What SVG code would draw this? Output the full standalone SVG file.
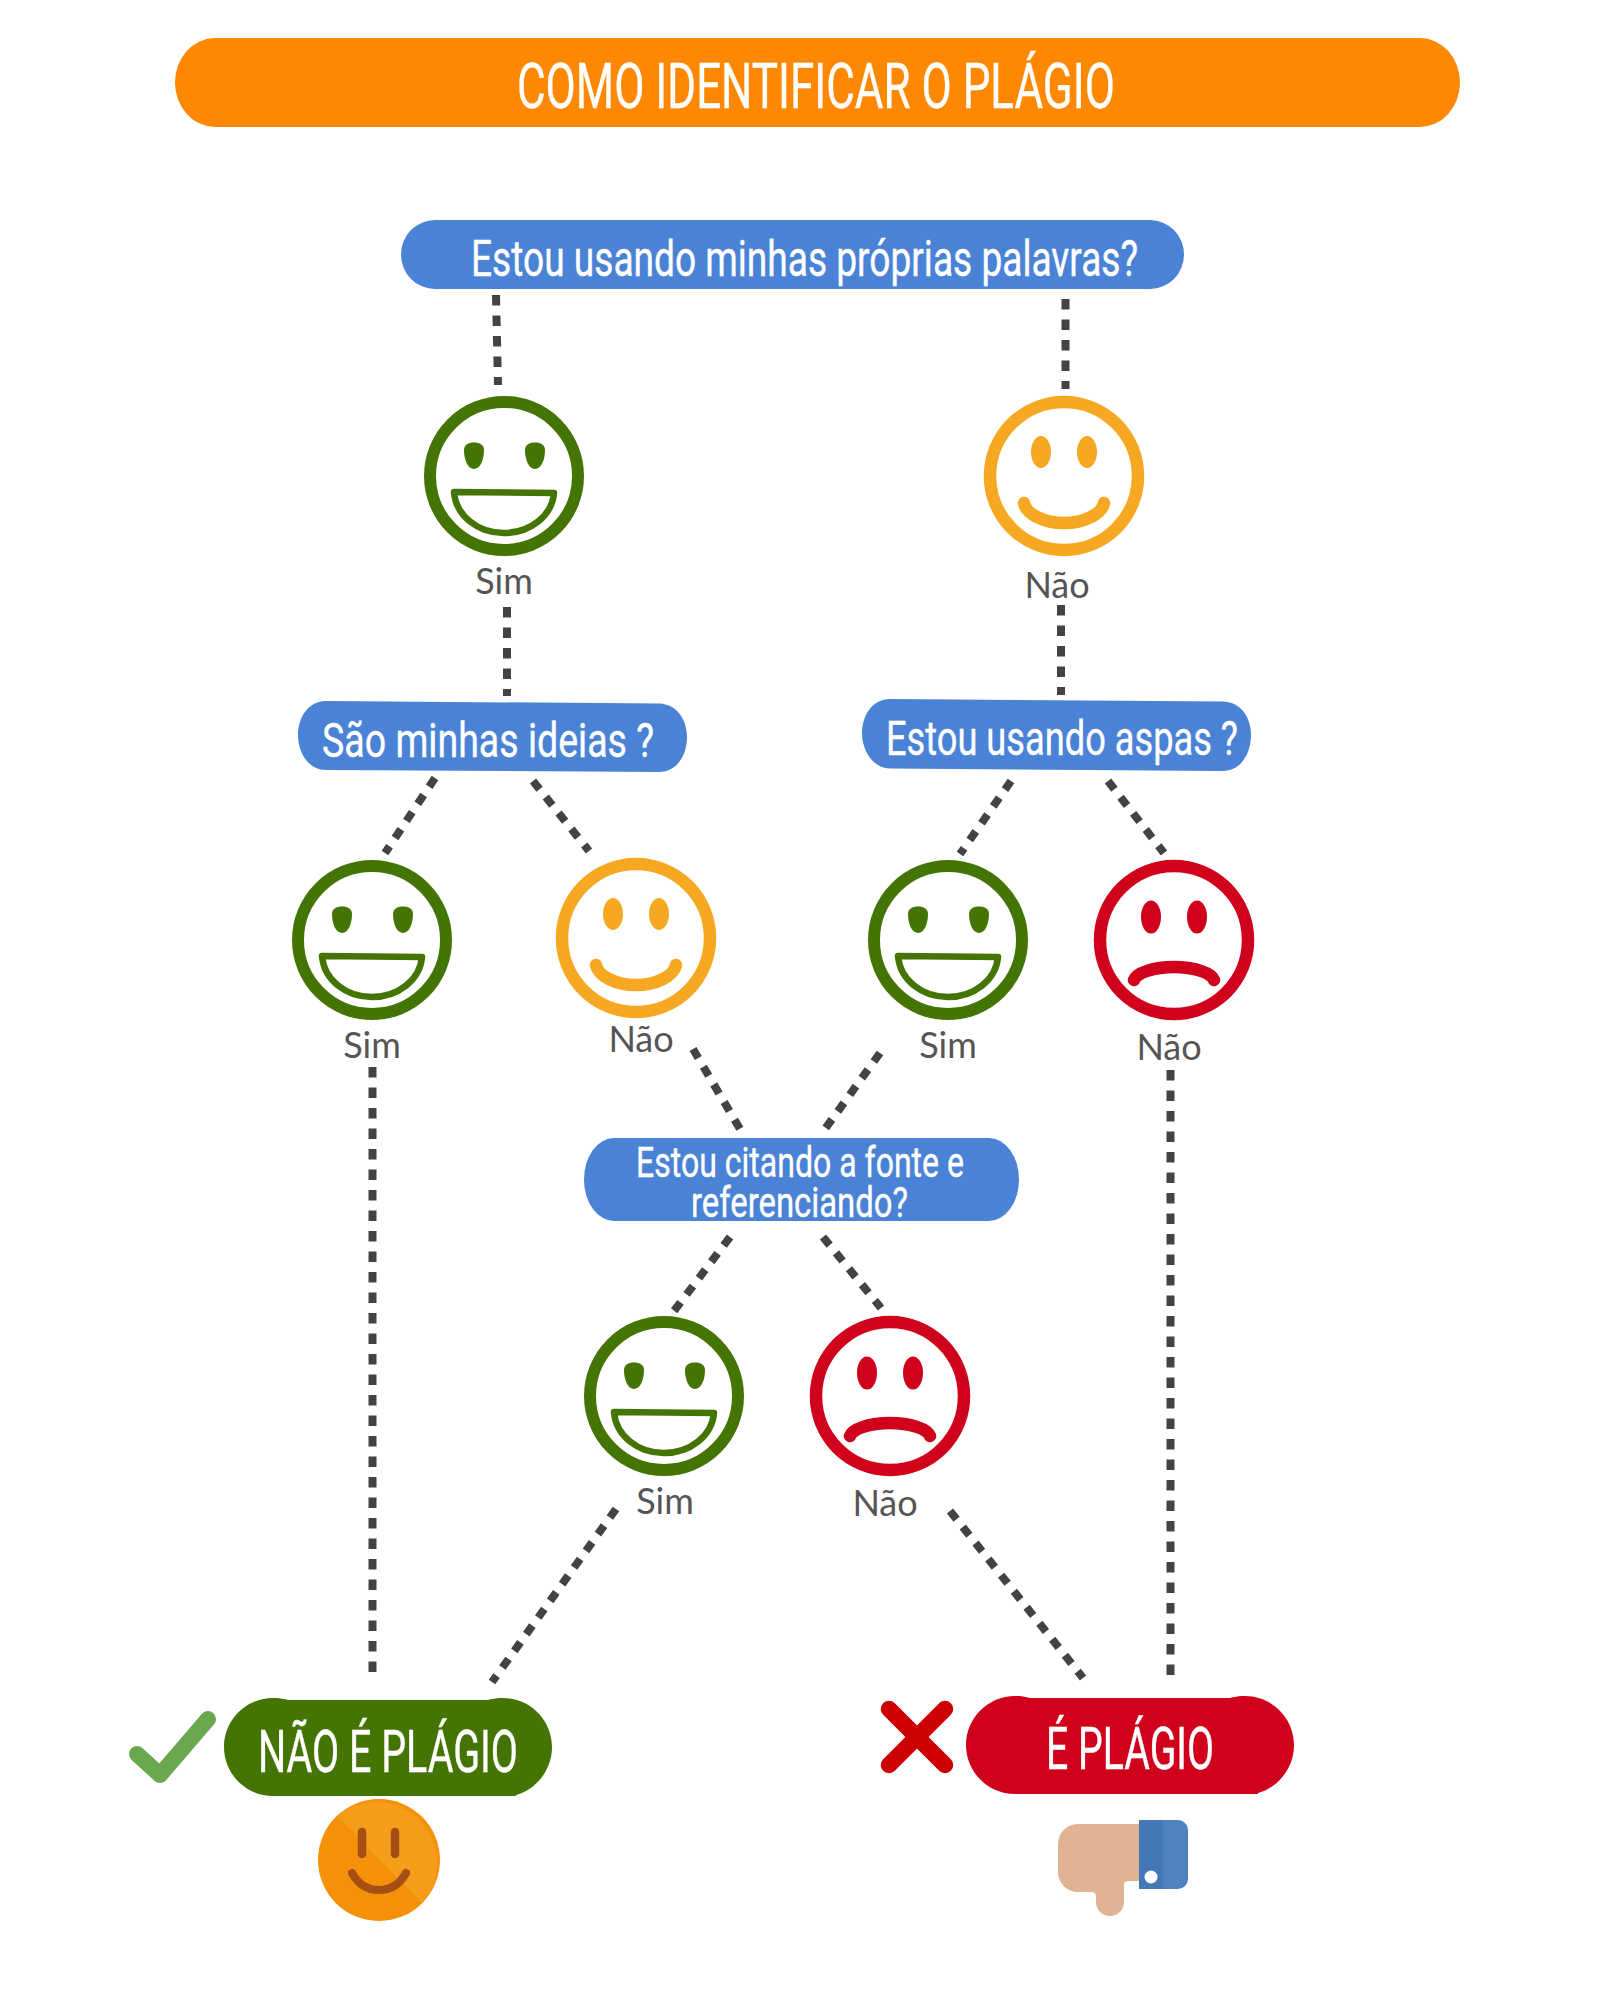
<svg xmlns="http://www.w3.org/2000/svg" width="1600" height="2014" viewBox="0 0 1600 2014">
<style>
.o{font-family:"Roboto","Liberation Sans",sans-serif;font-weight:400;fill:#fff;stroke:#fff;stroke-width:.4;text-anchor:start}
.l{font-family:"Lato","Liberation Sans",sans-serif;font-size:36px;fill:#555;text-anchor:middle}
.c line{stroke:#434343;stroke-width:8;stroke-dasharray:10.5 10}
.blue{fill:#4a82d6}
.gf{fill:none;stroke:#447504;stroke-width:12}
.gm{fill:none;stroke:#447504;stroke-width:6.5;stroke-linejoin:round}
.ge{fill:#447504}
.yf{fill:none;stroke:#f6a823;stroke-width:12.5}
.ye{fill:#f6a823}
.ym{fill:none;stroke:#f6a823;stroke-width:12.5;stroke-linecap:round}
.rf{fill:none;stroke:#d0021b;stroke-width:12.5}
.re{fill:#d0021b}
.rm{fill:none;stroke:#d0021b;stroke-width:12.5;stroke-linecap:round}
</style>
<defs>
<path id="eye" d="M-10 -6C-10 -11 -6 -13.5 0 -13.5C6 -13.5 10 -11 10 -6C10 4 6 13 0 13C-6 13 -10 4 -10 -6Z"/>
<g id="happy"><circle r="74" class="gf"/><use href="#eye" class="ge" x="-30" y="-20"/><use href="#eye" class="ge" x="31" y="-20"/><path class="gm" d="M-50 16L50 17C48 40 26 57 0 57C-26 57 -48 40 -50 16Z"/></g>
<g id="neutral"><circle r="74" class="yf"/><ellipse cx="-23" cy="-24" rx="10" ry="16" class="ye"/><ellipse cx="23" cy="-24" rx="10" ry="16" class="ye"/><path class="ym" d="M-40 27C-38 38 -20 47 0 47C20 47 38 38 40 27"/></g>
<g id="sad"><circle r="74" class="rf"/><ellipse cx="-23" cy="-23" rx="10" ry="16.5" class="re"/><ellipse cx="23" cy="-23" rx="10" ry="16.5" class="re"/><path class="rm" d="M-40 40C-38 33 -20 27 0 27C20 27 38 33 40 40"/></g>
</defs>
<g id="connectors" class="c">
<line x1="496" y1="295" x2="498" y2="385"/>
<line x1="1065.5" y1="299" x2="1065.5" y2="389"/>
<line x1="507" y1="607" x2="507" y2="696"/>
<line x1="1061" y1="605" x2="1061" y2="695"/>
<line x1="435" y1="778" x2="385" y2="853"/>
<line x1="533" y1="781" x2="589" y2="851"/>
<line x1="1011" y1="781" x2="960" y2="854"/>
<line x1="1108" y1="781" x2="1164" y2="853"/>
<line x1="372.5" y1="1067" x2="372.5" y2="1677"/>
<line x1="1170.5" y1="1070" x2="1170.5" y2="1679"/>
<line x1="693" y1="1049" x2="740" y2="1129"/>
<line x1="880" y1="1053" x2="825" y2="1129"/>
<line x1="730" y1="1237" x2="674" y2="1311"/>
<line x1="823" y1="1237" x2="881" y2="1308"/>
<line x1="616" y1="1509" x2="492" y2="1682"/>
<line x1="950" y1="1511" x2="1083" y2="1678"/>
</g>
<g id="title"><rect x="175" y="38" width="1285" height="89" rx="40" ry="44.5" fill="#ff8800"/><text class="o" x="517" y="108" font-size="63" textLength="598" lengthAdjust="spacingAndGlyphs">COMO IDENTIFICAR O PLÁGIO</text></g>
<g id="q1"><rect class="blue" x="401" y="220" width="783" height="69" rx="34" ry="34.5"/><text class="o" x="471" y="276" font-size="50" textLength="667" lengthAdjust="spacingAndGlyphs">Estou usando minhas próprias palavras?</text></g>
<g id="q2"><path class="blue" d="M326 701L659 703.5C677 704 687 720 687 737C687 755 677 772 659 772L326 770C308 770 298 752 298 735C298 718 308 701 326 701Z"/><text class="o" x="322" y="757" font-size="49" textLength="332" lengthAdjust="spacingAndGlyphs">São minhas ideias ?</text></g>
<g id="q3"><path class="blue" d="M890 699L1223 701.5C1241 702 1251 718 1251 735C1251 753 1241 771 1223 771L890 768.5C872 768 862 750 862 733C862 716 872 699 890 699Z"/><text class="o" x="886" y="755" font-size="49" textLength="352" lengthAdjust="spacingAndGlyphs">Estou usando aspas ?</text></g>
<g id="q4"><rect class="blue" x="584" y="1138" width="435" height="83" rx="30" ry="41.5"/><text class="o" x="636" y="1177" font-size="43" textLength="328" lengthAdjust="spacingAndGlyphs">Estou citando a fonte e</text><text class="o" x="691" y="1217" font-size="43" textLength="217" lengthAdjust="spacingAndGlyphs">referenciando?</text></g>
<g id="face-sim-1"><use href="#happy" x="504" y="476"/><text class="l" x="504" y="594">Sim</text></g>
<g id="face-nao-1"><use href="#neutral" x="1064" y="476"/><text class="l" x="1057" y="598">Não</text></g>
<g id="face-sim-2"><use href="#happy" x="372" y="940"/><text class="l" x="372" y="1058">Sim</text></g>
<g id="face-nao-2"><use href="#neutral" x="636" y="938"/><text class="l" x="641" y="1052">Não</text></g>
<g id="face-sim-3"><use href="#happy" x="948" y="940"/><text class="l" x="948" y="1058">Sim</text></g>
<g id="face-nao-3"><use href="#sad" x="1174" y="940"/><text class="l" x="1169" y="1060">Não</text></g>
<g id="face-sim-4"><use href="#happy" x="664" y="1396"/><text class="l" x="665" y="1514">Sim</text></g>
<g id="face-nao-4"><use href="#sad" x="890" y="1396"/><text class="l" x="885" y="1516">Não</text></g>
<g id="nao-plagio">
<path d="M137 1754L160 1775L208 1719" fill="none" stroke="#6aa84f" stroke-width="16" stroke-linecap="round" stroke-linejoin="round"/>
<path fill="#447504" d="M273 1698C283 1698 286 1700 290 1700H486C490 1700 493 1698 503 1698C530 1698 552 1720 552 1747C552 1771 535 1790 516 1795V1796H273C246 1796 224 1774 224 1747C224 1720 246 1698 273 1698Z"/>
<text class="o" x="258" y="1772" font-size="59" textLength="260" lengthAdjust="spacingAndGlyphs">NÃO É PLÁGIO</text>
<circle cx="379" cy="1860" r="61" fill="#f49109"/>
<path d="M337 1816A61 61 0 0 1 422 1903Z" fill="#f59c1a"/>
<path d="M362 1832V1854M395 1832V1854" stroke="#a64f14" stroke-width="8.5" stroke-linecap="round" fill="none"/>
<path d="M352 1873C358 1884 367 1890 379 1890C391 1890 400 1884 406 1873" stroke="#a64f14" stroke-width="8" stroke-linecap="round" fill="none"/>
</g>
<g id="e-plagio">
<path d="M889 1709L945 1765M945 1709L889 1765" fill="none" stroke="#cc0000" stroke-width="16.5" stroke-linecap="round"/>
<path fill="#d0021b" d="M1015 1696C1025 1696 1028 1698 1032 1698H1228C1232 1698 1235 1696 1245 1696C1272 1696 1294 1718 1294 1745C1294 1769 1277 1788 1258 1793V1794H1015C988 1794 966 1772 966 1745C966 1718 988 1696 1015 1696Z"/>
<text class="o" x="1046" y="1769" font-size="59" textLength="168" lengthAdjust="spacingAndGlyphs">É PLÁGIO</text>
<path fill="#e0b394" d="M1078 1824H1139V1881H1128Q1124 1881 1124 1885V1902A14 14 0 0 1 1096 1902V1897Q1096 1892 1091 1892H1078A20 20 0 0 1 1058 1872V1844A20 20 0 0 1 1078 1824Z"/>
<path fill="#4477b8" d="M1139 1820H1163V1889H1139Z"/>
<path fill="#5082c2" d="M1163 1820H1178A10 10 0 0 1 1188 1830V1879A10 10 0 0 1 1178 1889H1163Z"/>
<circle cx="1151" cy="1877" r="6.5" fill="#fff"/>
</g>
</svg>
